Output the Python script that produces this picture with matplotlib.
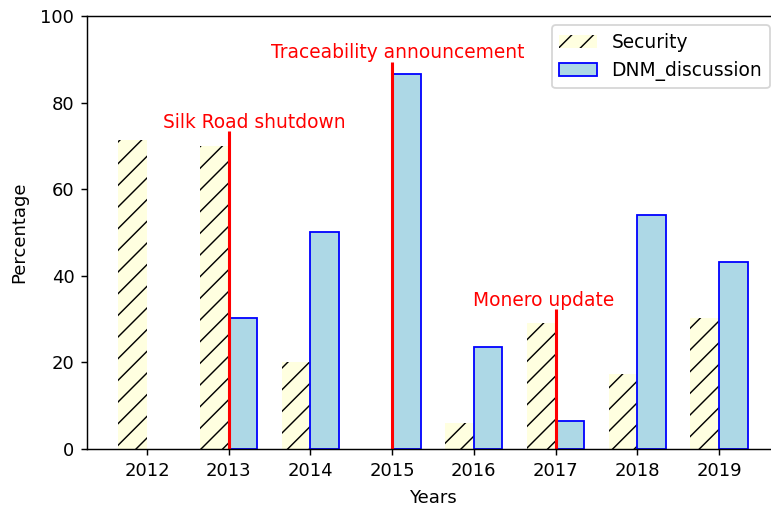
import numpy as np
import matplotlib
matplotlib.use("Agg")
import matplotlib.pyplot as plt

plt.rcParams["hatch.linewidth"] = 0.8

years = [2012, 2013, 2014, 2015, 2016, 2017, 2018, 2019]
security = [71.4, 70.0, 20.0, 0.0, 6.0, 29.1, 17.3, 30.3]
dnm_discussion = [0.0, 30.2, 50.0, 86.7, 23.6, 6.4, 54.0, 43.2]

events = ["Silk Road shutdown", "Traceability announcement", "Monero update"]
event_years = [2013, 2015, 2017]
event_heights = [73.4, 89.4, 32.3]
label_x = [2012.19, 2013.52, 2015.99]
label_y = [73.3, 89.3, 32.1]

width = 0.35
x = np.array(years)
sec = np.array(security)
dnm = np.array(dnm_discussion)

dpi = 130
fig = plt.figure(figsize=(771 / dpi, 507 / dpi), dpi=dpi)
ax = fig.add_axes([87 / 771, 58 / 507, 692 / 771, 433 / 507])

# skip empty years so no zero-height outline is drawn
m1 = sec > 0
m2 = dnm > 0
ax.bar(x[m1] - width / 2, sec[m1], width, color="lightyellow", hatch="//", label="Security")
ax.bar(x[m2] + width / 2, dnm[m2], width, color="lightblue", edgecolor="blue",
       label="DNM_discussion")
ax.set_xlim(2011.265, 2019.735)

# red markers for the events
for yr, h, name, tx, ty in zip(event_years, event_heights, events, label_x, label_y):
    ax.vlines(yr, 0, h, color="red", linewidth=1.7)
    ax.text(tx, ty, name, color="red", fontsize=10.3, ha="left", va="bottom")

ax.set_ylim(0, 100)
ax.set_xticks(years)
ax.set_xlabel("Years", labelpad=5)
ax.set_ylabel("Percentage", labelpad=6.8)
ax.legend(loc="upper right", fontsize=10.3)

fig.savefig("out.png", dpi=dpi)
